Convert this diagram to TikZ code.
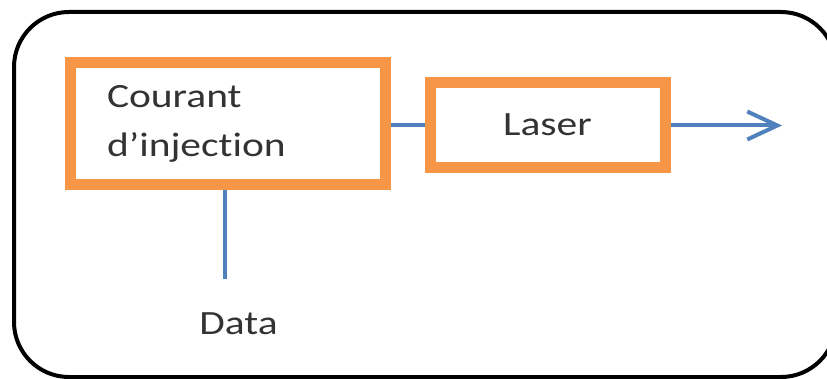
\documentclass[tikz,border=0pt]{standalone}
\usepackage{fontspec}
\setmainfont{Carlito}[FakeStretch=1.22, Ligatures={NoCommon,TeX}]
\usepackage{tikz}
\usetikzlibrary{arrows.meta}
\usetikzlibrary{positioning}
\definecolor{boxorange}{HTML}{F79646}
\definecolor{wireblue}{HTML}{4F81BD}
\tikzset{
    block/.style={draw=boxorange, line width=11, fill=white, text=black!80,
        font=\fontsize{34}{49}\selectfont},
    wire/.style={draw=wireblue, line width=4},
    frame/.style={draw=black, line width=4, rounded corners=55}
}

\begin{document}
\begin{tikzpicture}[x=1pt, y=-1pt]
        \useasboundingbox (0,0) rectangle (827,379);
        \draw[frame] (14,12) rectangle (836,377);
        \node[block, minimum width=315, minimum height=122, text width=241, align=left] (courant) at (227.5,124) {Courant\\d’injection};
        \node[block, minimum width=235, minimum height=85, text depth=2] (laser) at (547.5,125.5) {Laser};
        \coordinate (out) at (782,125.5);
        \coordinate (tap) at (225,279);
        \node[text=black!80, font=\fontsize{34}{40}\selectfont] (data) at (238.5,324) {Data};
        \draw[wire] (courant.east |- laser.west) -- (laser.west);
        \draw[wire, -{Straight Barb[length=30pt, width=28pt]}] (laser.east) -- (out);
        \draw[wire] (courant.south -| tap) -- (tap);
    \end{tikzpicture}
\end{document}
